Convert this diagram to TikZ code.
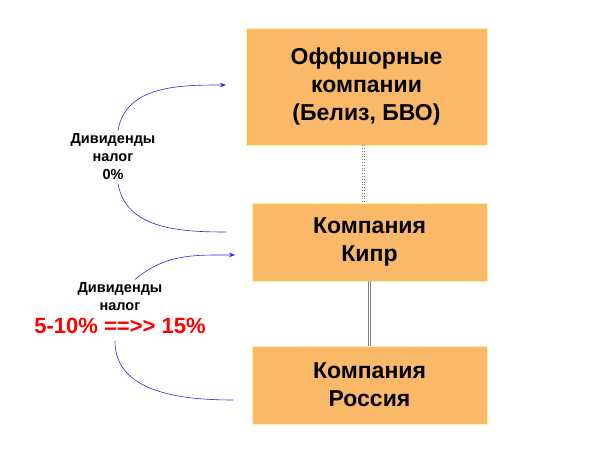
\documentclass[tikz,border=0pt]{standalone}
\usepackage{fontspec}
\setmainfont{Liberation Sans}
\usetikzlibrary{positioning,arrows.meta}
\definecolor{boxorange}{RGB}{250,185,105}
\definecolor{boxedge}{RGB}{255,240,170}
\definecolor{arrowblue}{RGB}{40,40,230}
\begin{document}
\begin{tikzpicture}[x=1pt,y=1pt,
        every node/.style={font=\bfseries},
        firm/.style={rectangle, draw=boxedge, fill=boxorange, align=center, font=\bfseries\fontsize{23}{28}\selectfont},
        note/.style={align=center, font=\bfseries\fontsize{14.5}{18}\selectfont},
        flow/.style={arrowblue, line width=0.6pt}
    ]
        \useasboundingbox (0,0) rectangle (604,465);
        \node[firm, minimum width=241, minimum height=117] (offshore) at (366.5,378.5) {Оффшорные\\компании\\(Белиз, БВО)};
        \node[firm, minimum width=235, minimum height=78] (cyprus) at (369.5,223) {Компания\\Кипр};
        \node[firm, minimum width=235, minimum height=78] (russia) at (369.5,80) {Компания\\Россия};

        \draw[gray, dotted, line width=0.8pt] ([xshift=-4.5]offshore.south) -- ([xshift=-7.5]cyprus.north);
        \draw[gray, dotted, line width=0.8pt] ([xshift=-2]offshore.south) -- ([xshift=-5]cyprus.north);
        \draw[gray, double, double distance=1.5pt] (cyprus) -- (russia);

        \node[note] (div1) at (113,308) {Дивиденды\\налог\\0\%};
        \node[note] (div2) at (120,168) {Дивиденды\\налог};
        \node[note, red, font=\bfseries\fontsize{22}{25}\selectfont, below=0pt of div2] (rate) {5-10\% ==>{}> 15\%};

        \coordinate (in1) at (226,233);
        \coordinate (out1) at (226,380);
        \coordinate (in2) at (233,65);
        \coordinate (out2) at (235,210);

        \draw[flow] (in1) to[out=180,in=-80] ([xshift=5]div1.south);
        \draw[flow, -{Stealth[length=6pt]}] ([xshift=5]div1.north) to[out=80,in=180] (out1);
        \draw[flow] (in2) to[out=180,in=-90] ([xshift=-5,yshift=-4]rate.south);
        \draw[flow, -{Stealth[length=6pt]}] ([xshift=15]div2.north) to[out=40,in=180] (out2);
    \end{tikzpicture}
\end{document}
